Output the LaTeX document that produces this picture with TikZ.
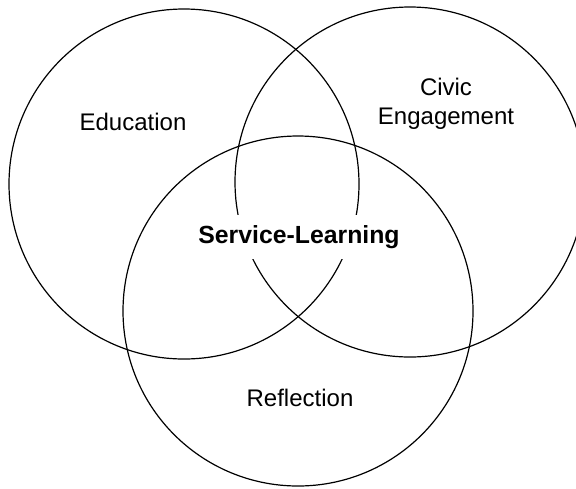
\documentclass[tikz,border=0pt]{standalone}
\usepackage{fontspec}
\setmainfont{Liberation Sans}
\usetikzlibrary{positioning}

\begin{document}
\begin{tikzpicture}[x=0.5pt, y=-0.5pt]
            \tikzset{ring/.style={draw, circle, line width=0.6pt, minimum size=175pt, inner sep=0pt},
                     every node/.append style={font=\fontsize{12}{14.5}\selectfont, align=center}}

            \clip (0,0) rectangle (576,488);

            % the three circles
            \node[ring] (edu) at (184,184) {};
            \node[ring] (civic) at (410,182) {};
            \node[ring] (refl) at (298,311) {};

            % labels
            \node (edulabel) at (133,122) {Education};
            \node (civiclabel) at (446,104) {Civic\\Engagement};
            \node (refllabel) at (300,398) {Reflection};
            \node[font=\fontsize{12.4}{14.5}\selectfont\bfseries, fill=white, inner xsep=1pt, inner ysep=5pt] (sl) at (299,237) {Service-Learning};
        \end{tikzpicture}
\end{document}
